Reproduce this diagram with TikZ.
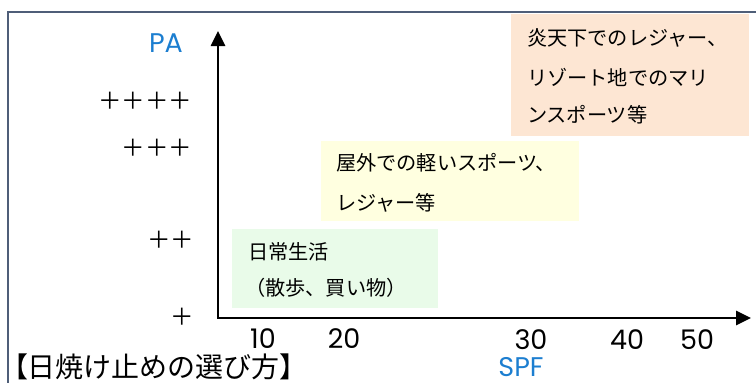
\documentclass[tikz,border=0pt]{standalone}
\usepackage{fontspec}
\setmainfont{Noto Sans CJK JP}
\newfontfamily\geo{Poppins}
\usetikzlibrary{arrows.meta}
\definecolor{framec}{HTML}{4F5E78}
\definecolor{bluec}{HTML}{1C7ED0}
\definecolor{orangebg}{HTML}{FDE6D3}
\definecolor{yellowbg}{HTML}{FFFFE0}
\definecolor{greenbg}{HTML}{E9FBE9}
\tikzset{
  lbl/.style={inner sep=0pt, outer sep=0pt},
  boxtxt/.style={lbl, anchor=west, font=\fontsize{20.2}{22}\selectfont},
  plus/.style={lbl, anchor=east, font=\fontsize{23.5}{25}\selectfont},
  num/.style={lbl, text height=19pt, text depth=0pt, font=\geo\fontsize{27}{29}\selectfont},
  axlbl/.style={lbl, text height=19pt, text depth=0pt, text=bluec, font=\geo\fontsize{27}{29}\selectfont},
  bg/.style={draw=none, inner sep=0pt, outer sep=0pt, anchor=north west},
  axis/.style={line width=2.6pt, {Triangle[length=15pt,width=14pt]}-{Triangle[length=15pt,width=14pt]}}
}
\begin{document}
\begin{tikzpicture}[x=1pt,y=-1pt]
\useasboundingbox (0,0) rectangle (756,383);
% frame
\draw[framec, line width=1.8pt] (8,383) -- (8,12) -- (756,12);
% background boxes
\node[bg, fill=orangebg, minimum width=238pt, minimum height=122pt] (obox) at (511,14) {};
\node[bg, fill=yellowbg, minimum width=258pt, minimum height=80pt] (ybox) at (321,141) {};
\node[bg, fill=greenbg, minimum width=206pt, minimum height=79pt] (gbox) at (232,229) {};
% box texts
\node[boxtxt] (o1) at (527,38) {炎天下でのレジャー、};
\node[boxtxt] (o2) at (527,77) {リゾート地でのマリ};
\node[boxtxt] (o3) at (527,115) {ンスポーツ等};
\node[boxtxt] (y1) at (336,163) {屋外での軽いスポーツ、};
\node[boxtxt] (y2) at (336,203) {レジャー等};
\node[boxtxt] (g1) at (248,252) {日常生活};
\node[boxtxt] (g2) at (245,288) {（散歩、買い物）};
% axes
\coordinate (O) at (218,318);
\coordinate (Ytip) at (218,31);
\coordinate (Xtip) at (751,318);
\draw[axis] (Ytip) -- (O) -- (Xtip);
% axis labels
\node[axlbl] (pa) at (166,43) {PA};
\node[axlbl] (spf) at (521,367) {SPF};
\node[plus] (p4) at (192,101) {＋＋＋＋};
\node[plus] (p3) at (192,148) {＋＋＋};
\node[plus] (p2) at (194,240) {＋＋};
\node[plus] (p1) at (194,317) {＋};
\node[num] (n10) at (263,339) {10};
\node[num] (n20) at (344,339) {20};
\node[num] (n30) at (531,340) {30};
\node[num] (n40) at (627,340) {40};
\node[num] (n50) at (697,340) {50};
% title
\node[lbl, anchor=base west, text height=21pt, text depth=3pt, font=\fontsize{28}{30}\selectfont] (title) at (0,377) {【日焼け止めの選び方】};
\end{tikzpicture}
\end{document}
